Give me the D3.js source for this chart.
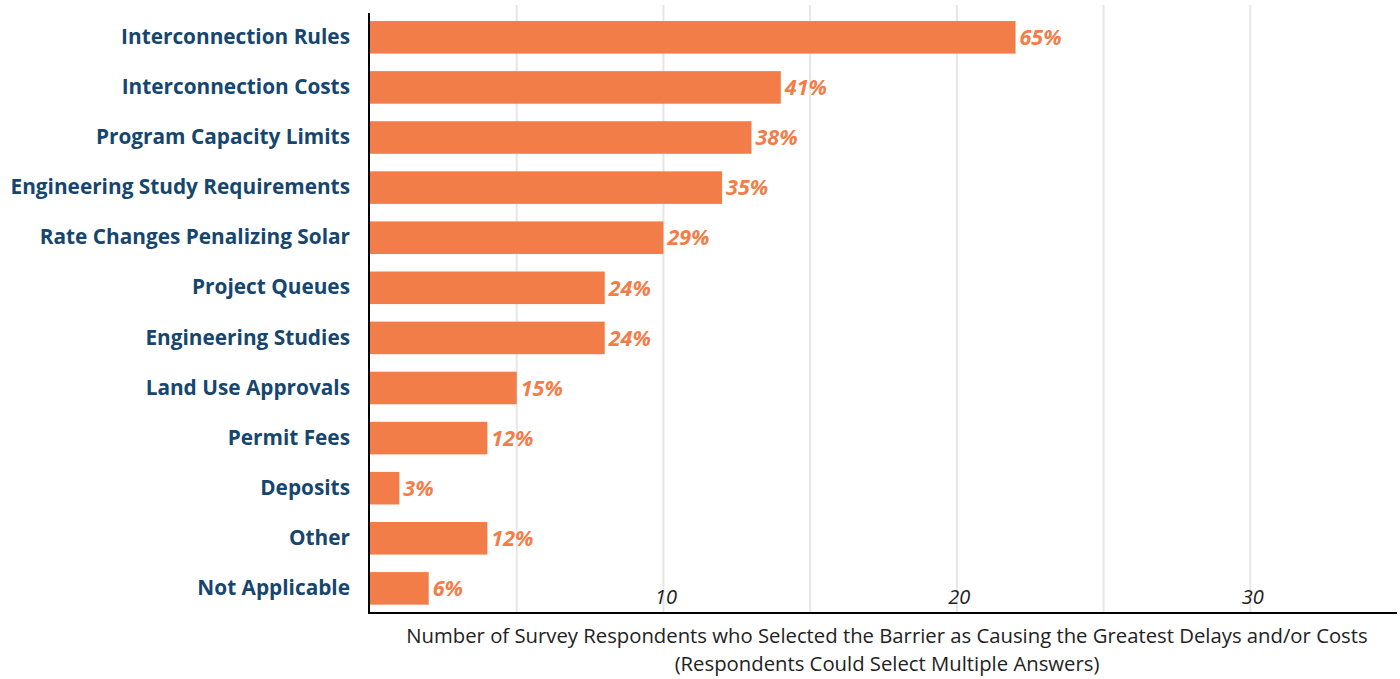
<!DOCTYPE html>
<html>
<head>
<meta charset="utf-8">
<script src="https://cdn.jsdelivr.net/npm/d3@7"></script>
<style>
  html, body { margin: 0; padding: 0; background: #fff; }
  svg { display: block; }
</style>
</head>
<body>
<svg id="chart" width="1400" height="679"></svg>
<script>
// Barriers reported by survey respondents (counts; 34 respondents total)
const categories = [
  "Interconnection Rules",
  "Interconnection Costs",
  "Program Capacity Limits",
  "Engineering Study Requirements",
  "Rate Changes Penalizing Solar",
  "Project Queues",
  "Engineering Studies",
  "Land Use Approvals",
  "Permit Fees",
  "Deposits",
  "Other",
  "Not Applicable"
];
const respondents = [22, 14, 13, 12, 10, 8, 8, 5, 4, 1, 4, 2];
const totalRespondents = 34;
const gridValues = [5, 10, 15, 20, 25, 30];
const tickLabels = [10, 20, 30];
const axisTitleLines = [
  "Number of Survey Respondents who Selected the Barrier as Causing the Greatest Delays and/or Costs",
  "(Respondents Could Select Multiple Answers)"
];

const data = categories.map((c, i) => ({ category: c, count: respondents[i] }));

const svg = d3.select("#chart");
const plotLeft = 370, plotRight = 1397, plotTop = 13, plotBottom = 613;

const x = d3.scaleLinear().domain([0, 35]).range([plotLeft, plotRight]);
const y = d3.scaleBand().domain(categories).range([3.5, 622.2]).padding(0.35);

const barColor = "#F37D48";
const navy = "#16466F";
const font = "'Open Sans', sans-serif";

// vertical grid lines
svg.append("g")
  .selectAll("line")
  .data(gridValues)
  .join("line")
  .attr("x1", d => x(d)).attr("x2", d => x(d))
  .attr("y1", 5).attr("y2", plotBottom)
  .attr("stroke", "#e6e6e6")
  .attr("stroke-width", 2);

// bars
svg.append("g")
  .selectAll("rect")
  .data(data)
  .join("rect")
  .attr("x", x(0))
  .attr("y", d => y(d.category))
  .attr("width", d => x(d.count) - x(0))
  .attr("height", y.bandwidth())
  .attr("fill", barColor);

// percentage labels at bar ends
svg.append("g")
  .selectAll("text")
  .data(data)
  .join("text")
  .attr("x", d => x(d.count) + 4)
  .attr("y", d => y(d.category) + y.bandwidth() / 2)
  .attr("dy", "0.36em")
  .attr("font-family", font)
  .attr("font-weight", 700)
  .attr("font-style", "italic")
  .attr("font-size", 21.5)
  .attr("fill", barColor)
  .text(d => Math.round(d.count / totalRespondents * 100) + "%");

// category labels
const yAxis = d3.axisLeft(y).tickSize(0).tickPadding(20);
const yg = svg.append("g").attr("transform", `translate(${plotLeft},0)`).call(yAxis);
yg.select(".domain").remove();
yg.selectAll("text")
  .attr("font-family", font)
  .attr("font-weight", 700)
  .attr("font-size", 20.8)
  .attr("fill", navy);

// x tick labels, drawn inside the plot just above the baseline
const xAxis = d3.axisBottom(x).tickValues(tickLabels).tickSize(0).tickPadding(0);
const xg = svg.append("g").attr("transform", `translate(2,${plotBottom - 23})`).call(xAxis);
xg.select(".domain").remove();
xg.selectAll("text")
  .attr("font-family", font)
  .attr("font-style", "italic")
  .attr("font-size", 20)
  .attr("fill", "#222");

// axis lines
svg.append("line")
  .attr("x1", plotLeft - 1).attr("x2", plotLeft - 1)
  .attr("y1", plotTop).attr("y2", plotBottom + 1)
  .attr("stroke", "#000").attr("stroke-width", 2);
svg.append("line")
  .attr("x1", plotLeft - 2).attr("x2", plotRight)
  .attr("y1", plotBottom).attr("y2", plotBottom)
  .attr("stroke", "#000").attr("stroke-width", 2);

// two-line axis title
svg.append("g")
  .selectAll("text")
  .data(axisTitleLines)
  .join("text")
  .attr("x", 887)
  .attr("y", (d, i) => 643 + i * 28)
  .attr("text-anchor", "middle")
  .attr("font-family", font)
  .attr("font-size", 20.3)
  .attr("fill", "#222")
  .text(d => d);
</script>
</body>
</html>
